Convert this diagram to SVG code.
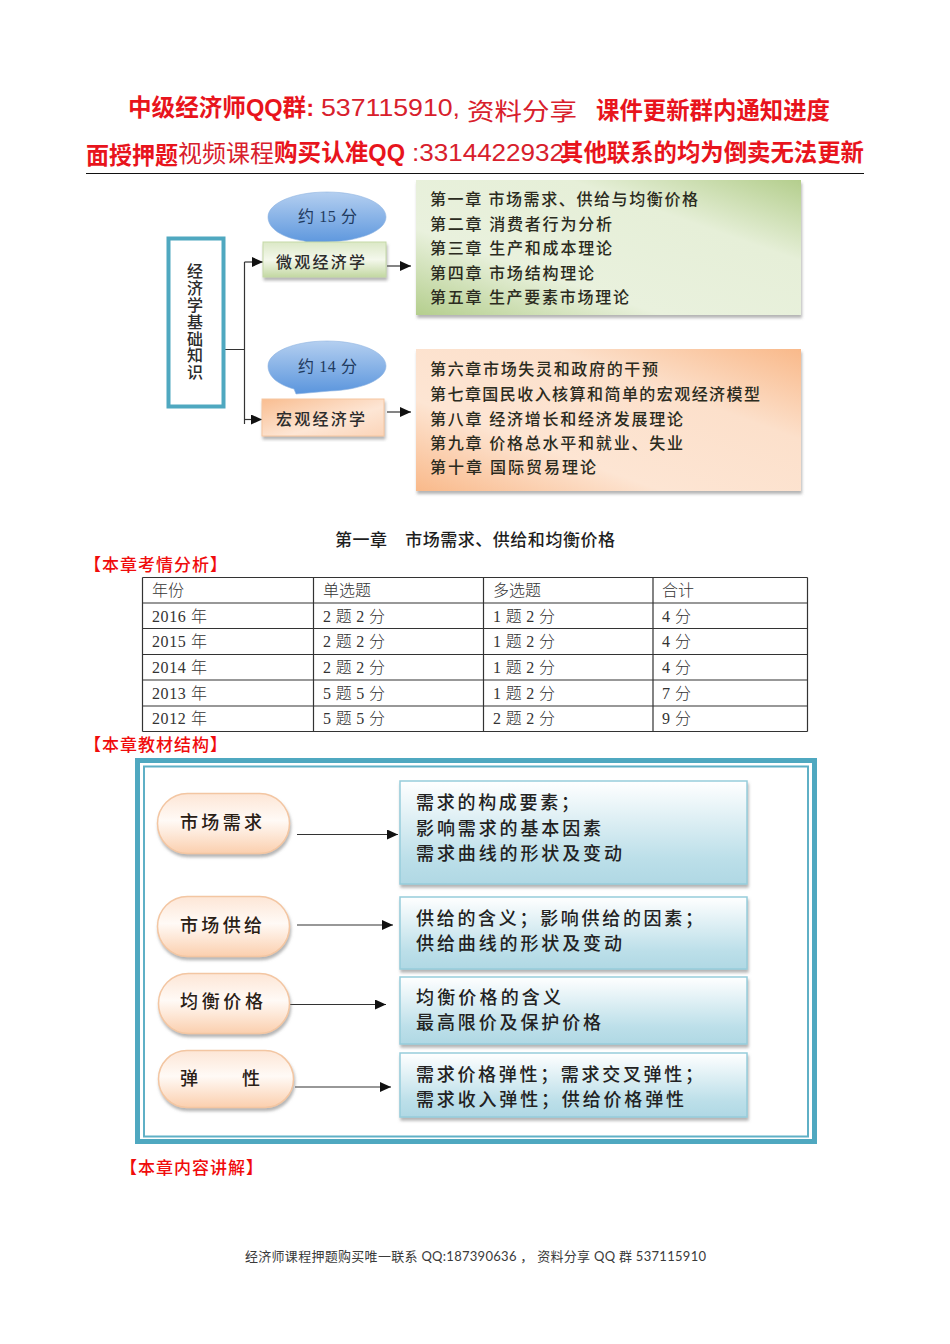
<svg xmlns="http://www.w3.org/2000/svg" width="950" height="1344" viewBox="0 0 950 1344">
<style>
text{font-family:"Liberation Serif","Noto Sans CJK SC",sans-serif;fill:#1e1e1e}
.hb{font-family:"Liberation Sans","Noto Sans CJK SC",sans-serif;font-weight:700;fill:#e8141c;font-size:24px}
.hr{font-family:"Liberation Sans","Noto Sans CJK SC",sans-serif;font-weight:400;fill:#d8202c;font-size:24px}
.ch{font-size:16px;font-weight:500;fill:#2b2b20}
.pt{font-size:16px;font-weight:500;fill:#2c2c2c}
.el{font-size:16px;fill:#1f3a60}
.rd{font-size:17px;font-weight:500;fill:#f00c0c}
.tb{font-size:16px;font-weight:300;fill:#333}
.bl{font-size:18px;font-weight:500;fill:#222}
.pl{font-size:18px;font-weight:500;fill:#2a2015}
.grid{stroke:#333;stroke-width:1.2;fill:none}
.cn{stroke:#333;stroke-width:1.2;fill:none}
.sec{filter:url(#sh)}
</style>
<defs>
<marker id="ah" markerUnits="userSpaceOnUse" markerWidth="11" markerHeight="10" refX="11" refY="5" orient="auto"><path d="M0 0L11 5L0 10Z" fill="#111"/></marker>
<filter id="sh" x="-5%" y="-10%" width="110%" height="125%"><feDropShadow dx="1" dy="3" stdDeviation="1.5" flood-color="#777" flood-opacity=".55"/></filter>
<linearGradient id="gb" x1="1" y1="0" x2="0" y2="1"><stop offset="0" stop-color="#b4ce8d"/><stop offset=".3" stop-color="#e6efd8"/><stop offset=".68" stop-color="#e9f1dd"/><stop offset="1" stop-color="#b4ce8d"/></linearGradient>
<linearGradient id="ob" x1="1" y1="0" x2="0" y2="1"><stop offset="0" stop-color="#f9b98a"/><stop offset=".32" stop-color="#fce0cb"/><stop offset=".68" stop-color="#fde5d3"/><stop offset="1" stop-color="#f9b98a"/></linearGradient>
<linearGradient id="gs" x1="0" y1="0" x2="0" y2="1"><stop offset="0" stop-color="#dbe8c6"/><stop offset=".5" stop-color="#f4f8ec"/><stop offset="1" stop-color="#c3d8a2"/></linearGradient>
<linearGradient id="os" x1="0" y1="0" x2="1" y2="1"><stop offset="0" stop-color="#f9bd90"/><stop offset=".6" stop-color="#fde6d5"/><stop offset="1" stop-color="#fbd4b8"/></linearGradient>
<linearGradient id="el" x1="0" y1="0" x2="0" y2="1"><stop offset="0" stop-color="#b4cff0"/><stop offset="1" stop-color="#5a95dd"/></linearGradient>
<linearGradient id="bb" x1="0" y1="0" x2="0" y2="1"><stop offset="0" stop-color="#ffffff"/><stop offset=".75" stop-color="#bcdfe9"/><stop offset="1" stop-color="#b0d8e4"/></linearGradient>
<linearGradient id="pg" x1="0" y1="0" x2="0" y2="1"><stop offset="0" stop-color="#fde6d6"/><stop offset=".45" stop-color="#fffaf6"/><stop offset="1" stop-color="#fbcfae"/></linearGradient>
</defs>

<g id="header">
<text class="hb" x="128" y="116" textLength="186" lengthAdjust="spacingAndGlyphs">中级经济师QQ群:</text>
<text class="hr" x="321" y="116" textLength="139" lengthAdjust="spacingAndGlyphs">537115910,</text>
<text class="hr" x="467" y="120" textLength="110" lengthAdjust="spacingAndGlyphs">资料分享</text>
<text class="hb" x="596" y="119" textLength="234" lengthAdjust="spacingAndGlyphs">课件更新群内通知进度</text>
<text class="hb" x="86" y="164" textLength="92" lengthAdjust="spacingAndGlyphs">面授押题</text>
<text class="hr" x="178" y="162" textLength="96" lengthAdjust="spacingAndGlyphs">视频课程</text>
<text class="hb" x="274" y="161" textLength="131" lengthAdjust="spacingAndGlyphs">购买认准QQ</text>
<text class="hr" x="412" y="161" textLength="152" lengthAdjust="spacingAndGlyphs">:3314422932</text>
<text class="hb" x="560" y="161" textLength="304" lengthAdjust="spacingAndGlyphs">其他联系的均为倒卖无法更新</text>
<line x1="86" y1="173.5" x2="864" y2="173.5" stroke="#111" stroke-width="1.2"/>
</g>

<g id="connectors-top">
<path class="cn" d="M225 349.5H244.5M244.5 262V424"/>
<line class="cn" x1="244.5" y1="262" x2="263" y2="262" marker-end="url(#ah)"/>
<line class="cn" x1="244.5" y1="419.5" x2="262" y2="419.5" marker-end="url(#ah)"/>
<line class="cn" x1="387" y1="266" x2="411" y2="266" marker-end="url(#ah)"/>
<line class="cn" x1="387" y1="412" x2="411" y2="412" marker-end="url(#ah)"/>
</g>

<g id="root-node">
<rect x="168.500" y="238.500" width="55" height="168" fill="#fff" stroke="#4fa8c0" stroke-width="4"/>
<text class="pt" x="187" y="277">经</text><text class="pt" x="187" y="294">济</text><text class="pt" x="187" y="311">学</text><text class="pt" x="187" y="328">基</text><text class="pt" x="187" y="345">础</text><text class="pt" x="187" y="361">知</text><text class="pt" x="187" y="378">识</text>
</g>

<g id="micro-note">
<path d="M268 217C268 203 294 192 327 192C360 192 386 203 386 217C386 231 360 241 328 242L311 245L304 241C283 238 268 229 268 217Z" fill="url(#el)" stroke="#8fb4e0" stroke-width=".6"/>
<text class="el" x="298" y="222" textLength="59">约 15 分</text>
</g>
<g id="micro">
<rect class="sec" x="263" y="242" width="123" height="35" fill="url(#gs)" stroke="#c5d9a8" stroke-width="1"/>
<text class="pt" x="276" y="268" textLength="89">微观经济学</text>
</g>
<g id="micro-chapters">
<rect class="sec" x="416" y="180" width="385" height="135" fill="url(#gb)"/>
<text class="ch" x="430" y="205" textLength="268">第一章 市场需求、供给与均衡价格</text>
<text class="ch" x="430" y="230" textLength="182">第二章 消费者行为分析</text>
<text class="ch" x="430" y="254" textLength="182">第三章 生产和成本理论</text>
<text class="ch" x="430" y="279" textLength="164">第四章 市场结构理论</text>
<text class="ch" x="430" y="303" textLength="199">第五章 生产要素市场理论</text>
</g>

<g id="macro-note">
<path d="M268 366C268 352 294 341 327 341C360 341 386 352 386 366C386 380 360 390 330 391L296 394L294 389C279 385 268 377 268 366Z" fill="url(#el)" stroke="#8fb4e0" stroke-width=".6"/>
<text class="el" x="298" y="372" textLength="59">约 14 分</text>
</g>
<g id="macro">
<rect class="sec" x="262" y="399" width="122" height="37" fill="url(#os)" stroke="#f5c6a0" stroke-width="1"/>
<text class="pt" x="276" y="425" textLength="89">宏观经济学</text>
</g>
<g id="macro-chapters">
<rect class="sec" x="416" y="349" width="385" height="142" fill="url(#ob)"/>
<text class="ch" x="430" y="375" textLength="228">第六章市场失灵和政府的干预</text>
<text class="ch" x="430" y="400" textLength="330">第七章国民收入核算和简单的宏观经济模型</text>
<text class="ch" x="430" y="425" textLength="253">第八章 经济增长和经济发展理论</text>
<text class="ch" x="430" y="449" textLength="253">第九章 价格总水平和就业、失业</text>
<text class="ch" x="430" y="473" textLength="166">第十章 国际贸易理论</text>
</g>

<g id="chapter-title">
<text x="335" y="546" font-size="17" font-weight="500" textLength="280">第一章　市场需求、供给和均衡价格</text>
<text class="rd" x="84" y="571" textLength="143"><tspan>【</tspan><tspan>本章考情分析</tspan><tspan>】</tspan></text>
</g>

<g id="exam-table">
<path class="grid" d="M142.500 577.500H807.500M142.500 603H807.500M142.500 628.500H807.500M142.500 654.500H807.500M142.500 680H807.500M142.500 706H807.500M142.500 731.500H807.500M142.500 577.500V731.500M313.500 577.500V731.500M483.500 577.500V731.500M653 577.500V731.500M807.500 577.500V731.500"/>
<g>
<text class="tb" x="152" y="596">年份</text><text class="tb" x="323" y="596">单选题</text><text class="tb" x="493" y="596">多选题</text><text class="tb" x="662" y="596">合计</text>
<text class="tb" x="152" y="622" textLength="55">2016 年</text><text class="tb" x="323" y="622" textLength="62">2 题 2 分</text><text class="tb" x="493" y="622" textLength="62">1 题 2 分</text><text class="tb" x="662" y="622" textLength="29">4 分</text>
<text class="tb" x="152" y="647" textLength="55">2015 年</text><text class="tb" x="323" y="647" textLength="62">2 题 2 分</text><text class="tb" x="493" y="647" textLength="62">1 题 2 分</text><text class="tb" x="662" y="647" textLength="29">4 分</text>
<text class="tb" x="152" y="673" textLength="55">2014 年</text><text class="tb" x="323" y="673" textLength="62">2 题 2 分</text><text class="tb" x="493" y="673" textLength="62">1 题 2 分</text><text class="tb" x="662" y="673" textLength="29">4 分</text>
<text class="tb" x="152" y="699" textLength="55">2013 年</text><text class="tb" x="323" y="699" textLength="62">5 题 5 分</text><text class="tb" x="493" y="699" textLength="62">1 题 2 分</text><text class="tb" x="662" y="699" textLength="29">7 分</text>
<text class="tb" x="152" y="724" textLength="55">2012 年</text><text class="tb" x="323" y="724" textLength="62">5 题 5 分</text><text class="tb" x="493" y="724" textLength="62">2 题 2 分</text><text class="tb" x="662" y="724" textLength="29">9 分</text>
</g>
<text class="rd" x="84" y="751" textLength="143">【本章教材结构】</text>
</g>

<g id="structure-frame">
<rect x="137.500" y="760.500" width="677" height="381" fill="#fff" stroke="#4fa8c0" stroke-width="5"/>
<rect x="144" y="766.500" width="664" height="370" fill="#fff" stroke="#5fb0c6" stroke-width="2"/>
</g>

<g id="connectors-structure">
<line class="cn" x1="297" y1="834.500" x2="398" y2="834.500" marker-end="url(#ah)"/>
<line class="cn" x1="297" y1="925" x2="393" y2="925" marker-end="url(#ah)"/>
<line class="cn" x1="290" y1="1004.500" x2="386" y2="1004.500" marker-end="url(#ah)"/>
<line class="cn" x1="295" y1="1087" x2="391" y2="1087" marker-end="url(#ah)"/>
</g>

<g id="demand">
<rect class="sec" x="157.500" y="793.500" width="132" height="60" rx="30" fill="url(#pg)" stroke="#f3c6a2" stroke-width="1.500"/>
<text class="pl" x="180" y="829" textLength="82">市场需求</text>
</g>
<g id="demand-detail">
<rect class="sec" x="400" y="781" width="347" height="103" fill="url(#bb)" stroke="#96cddb" stroke-width="1.500"/>
<text class="bl" x="416" y="809" textLength="163">需求的构成要素；</text>
<text class="bl" x="416" y="835" textLength="185">影响需求的基本因素</text>
<text class="bl" x="416" y="860" textLength="206">需求曲线的形状及变动</text>
</g>
<g id="supply">
<rect class="sec" x="157.500" y="896.500" width="132" height="60" rx="30" fill="url(#pg)" stroke="#f3c6a2" stroke-width="1.500"/>
<text class="pl" x="180" y="932" textLength="82">市场供给</text>
</g>
<g id="supply-detail">
<rect class="sec" x="400" y="897" width="347" height="72" fill="url(#bb)" stroke="#96cddb" stroke-width="1.500"/>
<text class="bl" x="416" y="925" textLength="287">供给的含义；影响供给的因素；</text>
<text class="bl" x="416" y="950" textLength="206">供给曲线的形状及变动</text>
</g>
<g id="equilibrium">
<rect class="sec" x="158.500" y="973.500" width="131" height="60" rx="30" fill="url(#pg)" stroke="#f3c6a2" stroke-width="1.500"/>
<text class="pl" x="180" y="1008" textLength="83">均衡价格</text>
</g>
<g id="equilibrium-detail">
<rect class="sec" x="400" y="977" width="347" height="67" fill="url(#bb)" stroke="#96cddb" stroke-width="1.500"/>
<text class="bl" x="416" y="1004" textLength="145">均衡价格的含义</text>
<text class="bl" x="416" y="1029" textLength="185">最高限价及保护价格</text>
</g>
<g id="elasticity">
<rect class="sec" x="158.500" y="1050.500" width="135" height="57" rx="28.500" fill="url(#pg)" stroke="#f3c6a2" stroke-width="1.500"/>
<text class="pl" x="180" y="1085" textLength="80">弹　　性</text>
</g>
<g id="elasticity-detail">
<rect class="sec" x="400" y="1053" width="347" height="64" fill="url(#bb)" stroke="#96cddb" stroke-width="1.500"/>
<text class="bl" x="416" y="1081" textLength="287">需求价格弹性；需求交叉弹性；</text>
<text class="bl" x="416" y="1106" textLength="268">需求收入弹性；供给价格弹性</text>
</g>

<g id="footer">
<text class="rd" x="120" y="1174" textLength="143">【本章内容讲解】</text>
<text x="245" y="1261" font-size="13" style="font-family:Lato,'Noto Sans CJK SC',sans-serif;fill:#3a3a3a" textLength="461">经济师课程押题购买唯一联系 QQ:187390636 ， 资料分享 QQ 群 537115910</text>
</g>
</svg>
